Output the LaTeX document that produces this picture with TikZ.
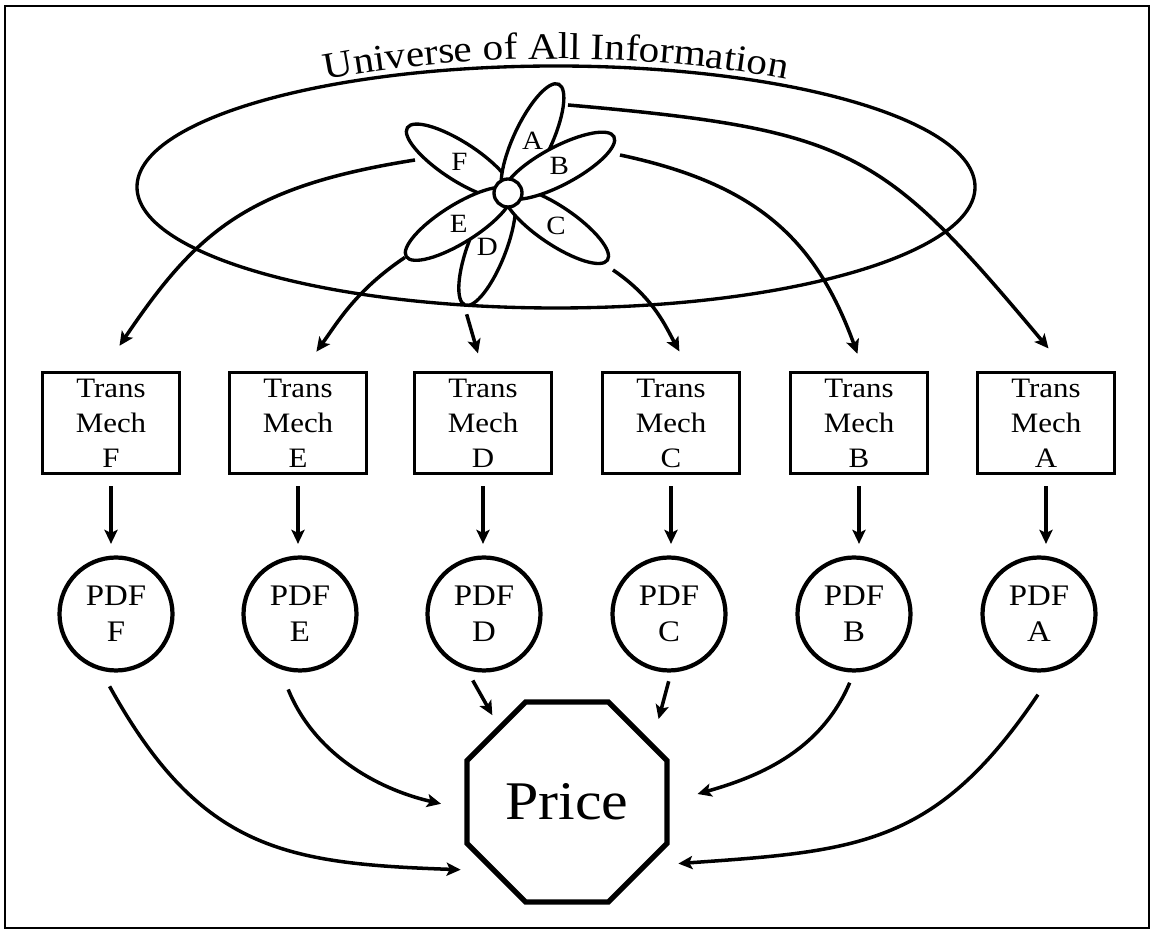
\documentclass[tikz,border=0pt]{standalone}
\usepackage{fontspec}
\setmainfont{Liberation Serif}[FakeStretch=1.1]
\usetikzlibrary{arrows.meta,shapes.geometric,decorations.text,positioning}

\begin{document}
\begin{tikzpicture}[x=0.02cm,y=0.02cm,>={Stealth[length=8pt,width=7.5pt,inset=1.8pt]},
  mech/.style={draw,line width=2.1pt,minimum width=2.74cm,minimum height=2.02cm,
    inner sep=0pt,align=center,font=\fontsize{16}{19.9}\selectfont},
  pdf/.style={draw,circle,line width=2.4pt,minimum size=2.26cm,inner sep=0pt,
    align=center,font=\fontsize{17}{20.5}\selectfont},
  petal/.style={draw,ellipse,fill=white,line width=1.9pt,minimum width=2.48cm,
    minimum height=0.76cm,inner sep=0pt},
  flow/.style={->,line width=2pt},
  lbl/.style={font=\fontsize{15}{17}\selectfont,inner sep=0pt}]
  \useasboundingbox (0,0) rectangle (1153,930);
  \draw[line width=1.6pt] (5,2) rectangle (1149,924);

  % the universe and its title along the top
  \draw[line width=1.9pt] (556,743) ellipse[x radius=419,y radius=121];
  \path[decorate,decoration={text along path,text align=center,
      text={|\fontsize{21.3}{25}\selectfont|Universe of All Information}}]
    (556,743) ++(140:424 and 128) arc[start angle=140,end angle=40,x radius=424,y radius=128];

  % information flower
  \coordinate (hub) at (508,737);
  \foreach \n/\a in {D/-111,C/-34,F/147,A/65,B/28,E/-148}
    \node[petal,rotate=\a] (pet\n) at ([shift={(\a:58)}]hub) {};
  \foreach \n in {A,B,C,D,E,F}
    \node[lbl] at (pet\n) {\n};
  \node[draw,circle,fill=white,line width=1.9pt,minimum size=0.56cm,inner sep=0pt] (core) at (hub) {};

  % transmission mechanisms and their pdfs
  \foreach \n/\bx/\cx in {F/111/116,E/298/300,D/483/484,C/671/669,B/859/854,A/1046/1039} {
    \node[mech] (mech\n) at (\bx,507) {Trans\\Mech\\\n};
    \node[pdf] (pdf\n) at (\cx,316) {PDF\\\n};
    \draw[flow,shorten <=0.22cm,shorten >=0.23cm] (mech\n.south) -- (mech\n.south |- pdf\n.north);
  }

  \node[draw,regular polygon,regular polygon sides=8,minimum size=4.33cm,inner sep=0pt,
    line width=3pt,font=\fontsize{31}{36}\selectfont] (price) at (567,128) {Price};

  % from the petals to the mechanisms
  \coordinate (oF) at (415,770);
  \coordinate (oC) at (613,660);
  \coordinate (oB) at (620,775);
  \coordinate (oA) at (568,825);
  \draw[flow,shorten >=0.6cm] (oF) to[out=189,in=56,looseness=1.15] (mechF.99);
  \draw[flow,shorten >=0.47cm] (petE.east) to[out=214,in=54] (mechE.85);
  \draw[flow,shorten <=0.16cm,shorten >=0.36cm] (petD.east) -- (mechD.north);
  \draw[flow,shorten >=0.44cm] (oC) to[out=-34,in=119] (mechC.70);
  \draw[flow,shorten >=0.36cm] (oB) to[out=-12,in=110,looseness=1.1] (mechB.85);
  \draw[flow,shorten >=0.58cm] (oA) to[out=-5,in=130,looseness=1.3] (mechA.68);

  % from the pdfs to the price
  \draw[flow,shorten <=0.36cm,shorten >=0.6cm] (pdfF.255) to[out=-61,in=178,looseness=1.2] (price.222);
  \draw[flow,shorten <=0.44cm,shorten >=0.48cm] (pdfE.250) to[out=-68,in=167] (price.184);
  \draw[flow,shorten <=0.24cm,shorten >=0.24cm] (pdfD.253) -- (price.132);
  \draw[flow,shorten <=0.18cm,shorten >=0.48cm] (pdfC.272) -- (price.35);
  \draw[flow,shorten <=0.22cm,shorten >=0.58cm] (pdfB.270) to[out=247,in=16] (price.0);
  \draw[flow,shorten <=0.58cm,shorten >=0.6cm] (pdfA.285) to[out=236,in=4,looseness=1.2] (price.-38);
\end{tikzpicture}
\end{document}
